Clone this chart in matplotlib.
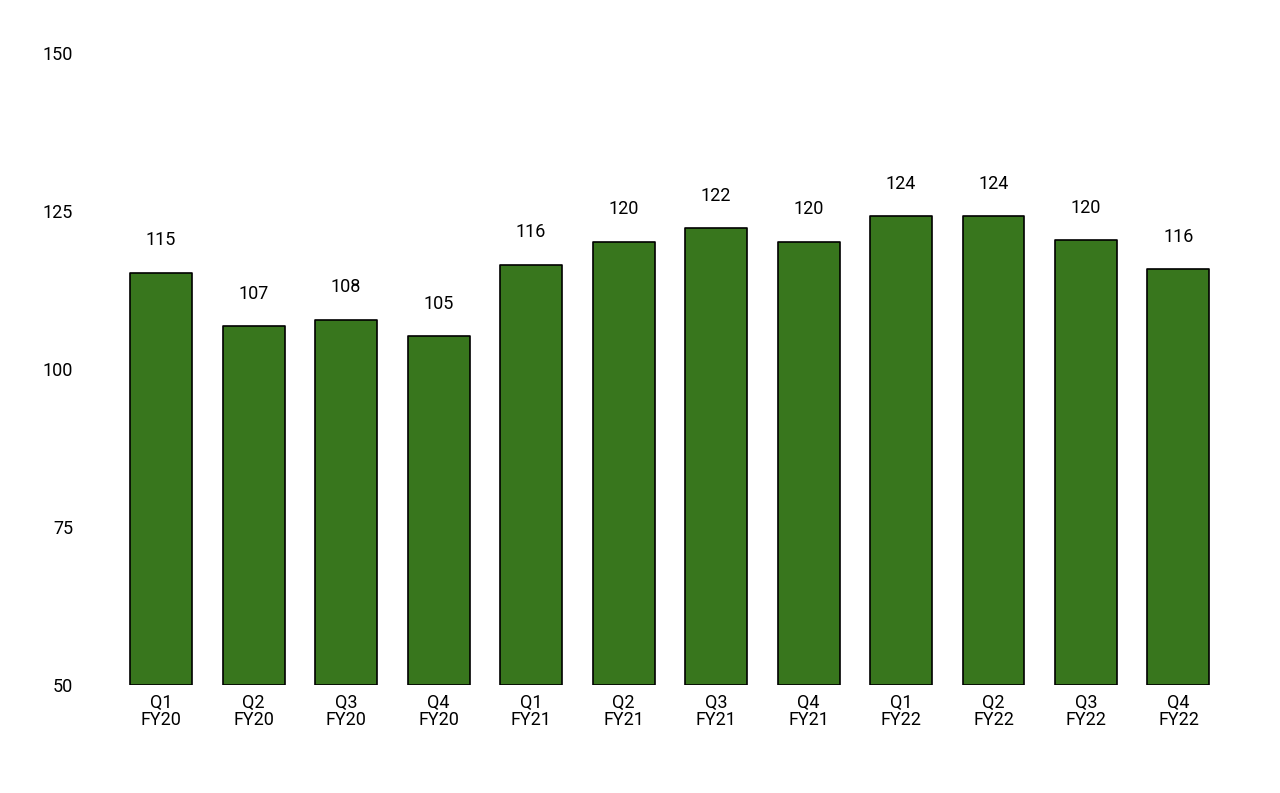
import matplotlib
matplotlib.use("Agg")
import matplotlib.pyplot as plt

categories = ["Q1\nFY20","Q2\nFY20","Q3\nFY20","Q4\nFY20","Q1\nFY21","Q2\nFY21","Q3\nFY21","Q4\nFY21","Q1\nFY22","Q2\nFY22","Q3\nFY22","Q4\nFY22"]
values = [115.2,106.8,107.8,105.2,116.5,120.1,122.3,120.1,124.2,124.2,120.4,115.8]
labels = ["115","107","108","105","116","120","122","120","124","124","120","116"]
yticks = [50,75,100,125,150]

plt.rcParams['font.family'] = ['Roboto','DejaVu Sans']
fig = plt.figure(figsize=(12.8,7.93), dpi=100)
ax = fig.add_axes([0.0898,0.136,0.867,0.797])
x = range(len(values))
bars = ax.bar(x, [v-50 for v in values], bottom=50, width=0.67, color="#38761d",
              edgecolor="black", linewidth=1.2, joinstyle="round")
for xi, v, l in zip(x, values, labels):
    ax.annotate(l, (xi, v), xytext=(0,17), textcoords="offset points",
                ha="center", va="bottom", fontsize=13)
ax.set_xlim(-0.5, 11.5)
ax.set_ylim(50,150)
ax.set_yticks(yticks)
ax.set_xticks(list(x))
ax.set_xticklabels(categories, fontsize=13, linespacing=1.0)
ax.tick_params(axis='y', labelsize=13, length=0, pad=30)
ax.tick_params(axis='x', length=0, pad=6)
for s in ax.spines.values():
    s.set_visible(False)
fig.savefig("out.png", dpi=100)
